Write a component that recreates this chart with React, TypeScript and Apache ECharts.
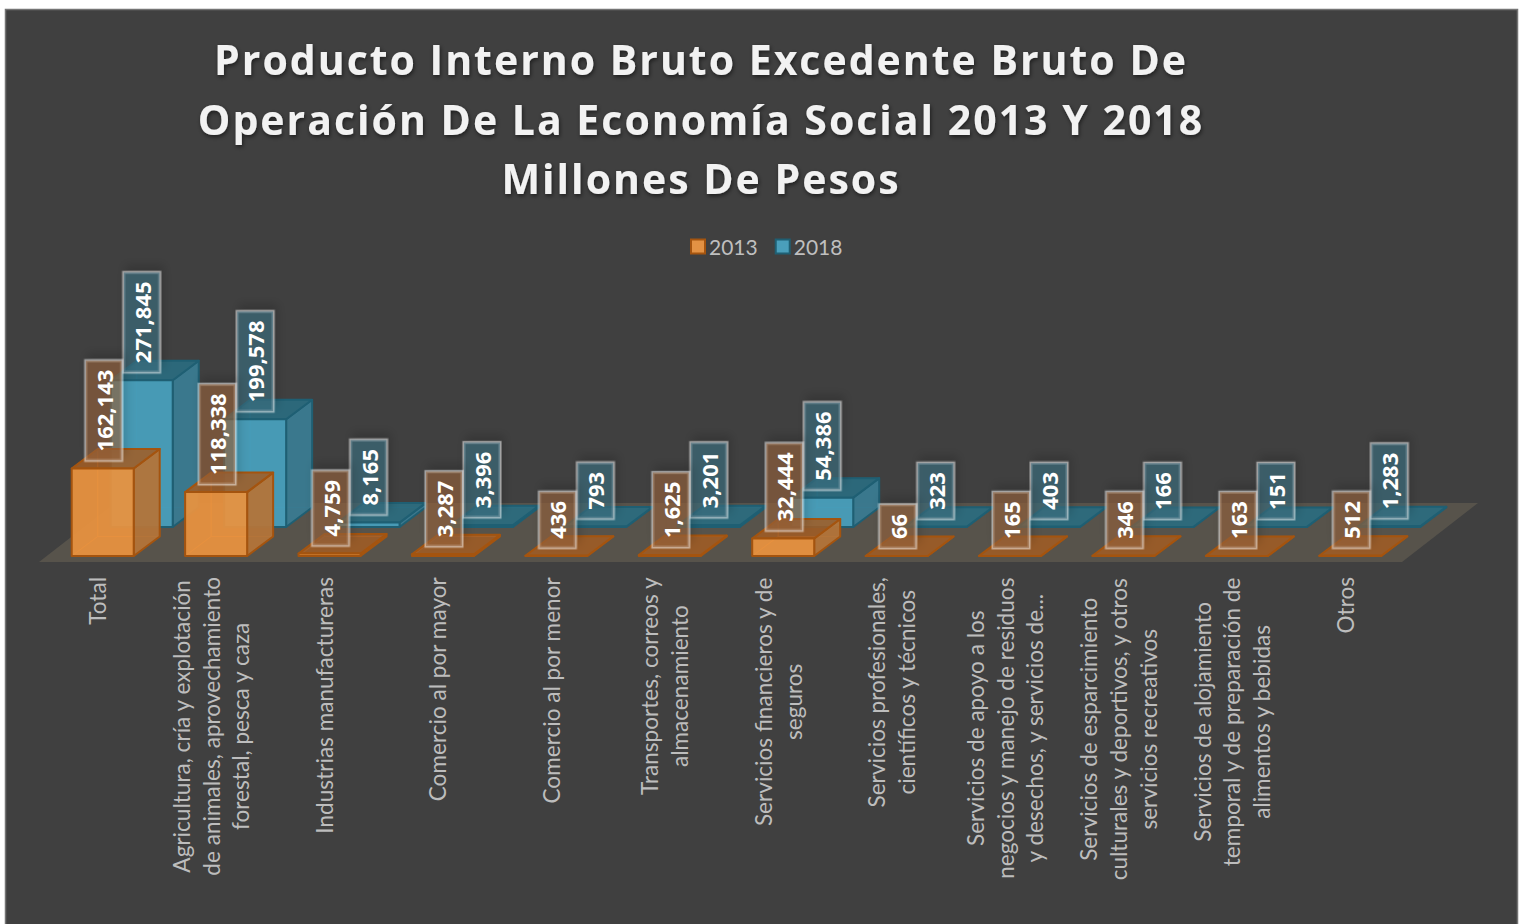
import React, { useEffect, useRef } from "react";
import * as echarts from "echarts";

const titleText = "Producto Interno Bruto Excedente Bruto De\nOperación De La Economía Social 2013 Y 2018\nMillones De Pesos";
const categories = [
  "Total",
  "Agricultura, cría y explotación\nde animales, aprovechamiento\nforestal, pesca y caza",
  "Industrias manufactureras",
  "Comercio al por mayor",
  "Comercio al por menor",
  "Transportes, correos y\nalmacenamiento",
  "Servicios financieros y de\nseguros",
  "Servicios profesionales,\ncientíficos y técnicos",
  "Servicios de apoyo a los\nnegocios y manejo de residuos\ny desechos, y servicios de...",
  "Servicios de esparcimiento\nculturales y deportivos, y otros\nservicios recreativos",
  "Servicios de alojamiento\ntemporal y de preparación de\nalimentos y bebidas",
  "Otros",
];
const values2013 = [162143, 118338, 4759, 3287, 436, 1625, 32444, 66, 165, 346, 163, 512];
const values2018 = [271845, 199578, 8165, 3396, 793, 3201, 54386, 323, 403, 166, 151, 1283];

const AXIS_FONT = "22.6px Lato";
const measure = (() => {
  const ctx = document.createElement("canvas").getContext("2d")!;
  return (s: string) => { ctx.font = AXIS_FONT; return ctx.measureText(s).width; };
})();

const DX = 26, DY = -19.5, W = 62;

function cuboid(api: any, c: any) {
  const i = api.value(0), v = api.value(1);
  const [cx, top0] = api.coord([i, v]);
  const [, base0] = api.coord([i, 0]);
  const x0 = cx - W / 2 + c.ox, x1 = x0 + W;
  const top = top0 + c.oy, base = base0 + c.oy;
  const poly = (pts: number[][], fill: string, stroke = c.edge, lw = 2) => ({
    type: "polygon", shape: { points: pts }, silent: true,
    style: { fill, stroke, lineWidth: lw, lineJoin: "round" },
  });
  const children: any[] = [
    poly([[x0 + DX, top + DY], [x1 + DX, top + DY], [x1 + DX, base + DY], [x0 + DX, base + DY]], c.back, c.inner, 1),
    poly([[x0, top], [x0 + DX, top + DY], [x0 + DX, base + DY], [x0, base]], c.back, c.inner, 1),
    poly([[x0, base], [x1, base], [x1 + DX, base + DY], [x0 + DX, base + DY]], c.back, c.inner, 1),
    poly([[x1, top], [x1 + DX, top + DY], [x1 + DX, base + DY], [x1, base]], c.side),
    poly([[x0, top], [x1, top], [x1 + DX, top + DY], [x0 + DX, top + DY]], c.top),
    poly([[x0, top], [x1, top], [x1, base], [x0, base]], c.front),
    {
      type: "text", x: cx + c.ox + c.lx, y: top - 8, rotation: Math.PI / 2, silent: true, z2: 10,
      style: {
        text: Number(v).toLocaleString("en-US"),
        font: "bold 22px 'Open Sans'", fill: "#ffffff", align: "left", verticalAlign: "middle",
        backgroundColor: c.box, borderColor: "rgba(255,255,255,0.5)", borderWidth: 1.5,
        padding: [7, 9, 7, 9], shadowBlur: 10, shadowColor: "rgba(0,0,0,0.25)", shadowOffsetX: 6, shadowOffsetY: 3,
      },
    },
  ];
  return { type: "group", children };
}

const style2013 = {
  ox: 0, oy: 0, lx: 1, edge: "#a4540f", inner: "rgba(238,130,40,0.55)",
  front: "rgba(232,146,64,0.93)", side: "rgba(178,116,58,0.95)", top: "rgba(160,92,36,0.85)",
  back: "rgba(232,140,50,0.12)", box: "rgba(150,100,60,0.6)",
};
const style2018 = {
  ox: 39, oy: -29, lx: 0, edge: "#1f5f73", inner: "rgba(40,120,145,0.5)",
  front: "rgba(72,158,186,0.95)", side: "rgba(58,122,144,0.95)", top: "rgba(42,108,128,0.9)",
  back: "rgba(60,150,180,0.12)", box: "rgba(62,110,128,0.62)",
};

export default function App() {
  const ref = useRef<HTMLDivElement>(null);
  useEffect(() => {
    const chart = echarts.init(ref.current!, undefined, { renderer: "svg" });
    chart.setOption({
      animation: false,
      backgroundColor: "#ffffff",
      title: {
        text: titleText, left: 696, top: 24.5, textAlign: "center",
        textStyle: {
          fontFamily: "Open Sans", fontWeight: "bold", fontSize: 41,
          color: "#f2f2f2", lineHeight: 59.5,
          textShadowColor: "rgba(0,0,0,0.55)", textShadowBlur: 4, textShadowOffsetX: 1, textShadowOffsetY: 2,
        },
      },
      legend: {
        data: ["2013", "2018"], left: 685, top: 231, icon: "rect", itemWidth: 14, itemHeight: 14, itemGap: 17,
        selectedMode: false,
        textStyle: { fontFamily: "Lato", fontSize: 21, color: "#bfbfbf", padding: [0, 0, 0, -1] },
      },
      grid: { left: 46, width: 1361, top: 394, height: 162 },
      xAxis: { type: "category", data: categories, show: false },
      yAxis: { type: "value", min: 0, max: 300000, show: false },
      graphic: [
        { type: "rect", z: -10, silent: true, shape: { x: 5.5, y: 9.5, width: 1512, height: 930 }, style: { fill: "#404040", stroke: "#747474", lineWidth: 1.5 } },
        { type: "polygon", z: -9, silent: true, shape: { points: [[39, 562], [1402, 562], [1478, 503], [115, 503]] }, style: { fill: "#57534b" } },
      ],
      series: [
        {
          type: "custom", name: "2018", z: 3, coordinateSystem: "cartesian2d", encode: { x: 0, y: 1 },
          itemStyle: { color: "#4a9fbb", borderColor: "#1f5f73", borderWidth: 2 },
          data: values2018.map((v, i) => [i, v]),
          renderItem: (_: any, api: any) => cuboid(api, style2018),
        },
        {
          type: "custom", name: "2013", z: 4, coordinateSystem: "cartesian2d", encode: { x: 0, y: 1 },
          itemStyle: { color: "#e39244", borderColor: "#a4540f", borderWidth: 2 },
          data: values2013.map((v, i) => [i, v]),
          renderItem: (_: any, api: any) => cuboid(api, style2013),
        },
        {
          type: "custom", name: "categorias", z: 5, coordinateSystem: "cartesian2d", encode: { x: 0, y: 1 },
          data: categories.map((_, i) => [i, 0]),
          renderItem: (params: any, api: any) => {
            const i = api.value(0);
            const [cx] = api.coord([i, 0]);
            const text = categories[i];
            const longest = Math.max(...text.split("\n").map(measure));
            return {
              type: "text", x: cx - 5, y: 577 + longest / 2, rotation: Math.PI / 2, silent: true,
              style: { text, font: AXIS_FONT, fill: "#bdbdbd", align: "center", verticalAlign: "middle", lineHeight: 29.8 },
            };
          },
        },
      ],
    });
    return () => chart.dispose();
  }, []);
  return (
    <div style={{ position: "fixed", left: 0, top: 0, width: 1524, height: 924, overflow: "hidden", background: "#fff" }}>
      <style>{`svg text[fill="#f2f2f2"]{letter-spacing:2px}`}</style>
      <div ref={ref} style={{ width: 1524, height: 924 }} />
    </div>
  );
}
